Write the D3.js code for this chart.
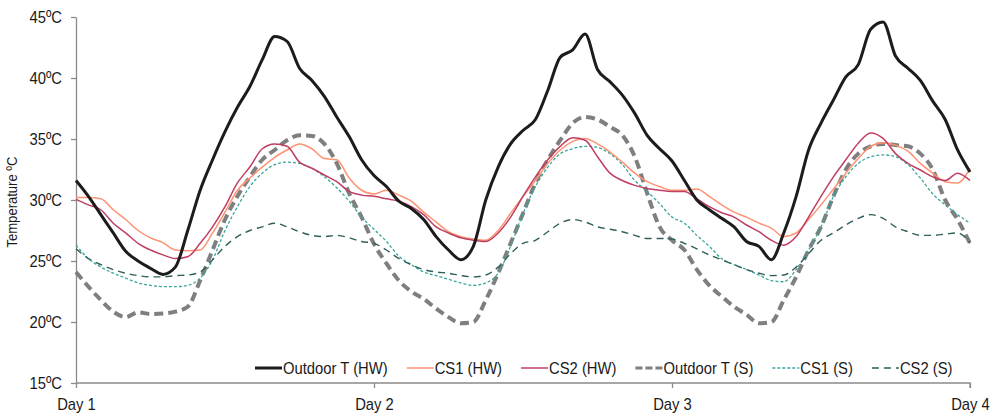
<!DOCTYPE html>
<html>
<head>
<meta charset="utf-8">
<script src="https://cdn.jsdelivr.net/npm/d3@7"></script>
<style>
  body { margin: 0; background: #fff; }
  svg text { font-family: "Liberation Sans Narrow", "Arial Narrow", "Liberation Sans", Arial, sans-serif; fill: #1a1a1a; }
</style>
</head>
<body>
<div id="chart"></div>
<script>
// hourly readings, hour 0 = Day 1 00:00 ... hour 72 = Day 4
const hours = d3.range(0, 73);
const dayTicks = [0, 24, 48, 72];
const dayLabels = ["Day 1", "Day 2", "Day 3", "Day 4"];
const tempTicks = [15, 20, 25, 30, 35, 40, 45];

const outdoorHW = [
  31.6, 30.3, 28.8, 27.3, 25.8, 25.0, 24.4, 23.9, 24.5, 27.5, 30.8, 33.3, 35.6, 37.6, 39.3, 41.5, 43.4, 43.0, 40.8, 39.8, 38.5, 36.8, 35.2, 33.3, 32.0,
  31.1, 29.9, 29.3, 28.4, 27.0, 25.9, 25.1, 26.2, 30.0, 32.7, 34.6, 35.7, 36.6, 39.0, 41.7, 42.3, 43.6, 40.7, 39.7, 38.6, 37.1, 35.3, 34.2, 33.2,
  31.6, 30.0, 29.2, 28.5, 27.8, 26.6, 26.2, 25.1, 27.3, 30.3, 34.1, 36.3, 38.2, 40.1, 41.1, 44.0, 44.6, 41.8, 40.8, 39.8, 38.1, 36.6, 34.1, 32.3
];
const cs1HW = [
  30.2, 30.2, 30.1, 29.2, 28.4, 27.5, 26.9, 26.5, 25.9, 25.85, 25.9, 27.3, 29.0, 30.8, 31.8, 32.7, 33.5, 34.1, 34.6, 34.2, 33.4, 33.3, 31.8, 30.8, 30.5,
  30.8, 30.4, 29.9, 29.0, 28.2, 27.4, 27.0, 26.8, 26.7, 27.5, 28.9, 30.3, 31.6, 33.0, 34.1, 34.8, 35.05, 34.6, 33.95, 33.1, 32.2, 31.5, 31.1, 30.8,
  30.8, 30.9, 30.3, 29.6, 29.0, 28.6, 28.1, 27.7, 27.0, 27.3, 28.4, 29.6, 30.9, 32.2, 33.4, 34.4, 34.7, 34.5, 34.0, 33.0, 32.2, 31.5, 31.4, 32.6
];
const cs2HW = [
  30.05, 29.6, 29.2, 28.1, 27.3, 26.45, 25.9, 25.5, 25.2, 25.35, 26.45, 27.8, 29.45, 31.4, 32.7, 34.2, 34.6, 34.4, 33.1, 32.6, 32.05, 31.5, 30.7, 30.4, 30.3,
  30.1, 29.9, 29.45, 28.8, 27.8, 27.3, 26.9, 26.7, 26.6, 27.3, 28.6, 30.3, 31.9, 33.3, 34.4, 35.1, 34.9, 33.55, 32.2, 31.6, 31.2, 30.95, 30.8, 30.7,
  30.7, 30.1, 29.45, 28.96, 28.6, 27.95, 27.4, 26.7, 26.3, 27.0, 28.6, 30.3, 31.9, 33.3, 34.65, 35.5, 35.05, 33.8, 33.0, 32.46, 31.9, 31.6, 32.2, 31.6
];
const outdoorS = [
  24.1, 22.9, 21.8, 20.85, 20.4, 20.8, 20.65, 20.7, 20.85, 21.25, 23.4, 25.9, 28.4, 30.3, 31.9, 33.3, 34.1, 34.9, 35.3, 35.25, 34.6, 33.0, 30.55, 28.6, 26.4,
  24.8, 23.4, 22.5, 21.9, 21.1, 20.4, 19.9, 20.0, 21.8, 24.0, 26.45, 28.9, 31.4, 33.3, 34.9, 36.3, 36.8, 36.6, 36.0, 35.3, 33.55, 30.55, 27.8, 26.7,
  25.9, 24.3, 23.0, 22.1, 21.25, 20.6, 19.9, 20.0, 21.8, 23.7, 25.9, 27.8, 30.3, 32.5, 33.8, 34.4, 34.6, 34.5, 34.4, 33.8, 32.5, 30.0, 28.4, 26.45
];
const cs1S = [
  26.3, 25.2, 24.5, 24.0, 23.6, 23.2, 23.0, 22.9, 22.9, 23.0, 23.6, 25.1, 27.5, 29.45, 31.1, 32.2, 32.9, 33.1, 33.0, 32.6, 31.9, 31.0, 29.9, 28.6, 27.6,
  26.6, 25.4, 24.7, 24.1, 23.8, 23.5, 23.2, 23.0, 23.2, 24.0, 26.2, 28.9, 31.1, 32.7, 33.8, 34.2, 34.4, 34.3, 33.8, 32.9, 31.6, 30.7, 29.7, 28.6,
  28.1, 27.1, 26.2, 25.2, 24.7, 24.3, 23.85, 23.4, 23.3, 24.3, 25.9, 27.8, 30.3, 31.9, 33.0, 33.55, 33.7, 33.55, 32.9, 31.8, 30.5, 29.6, 28.8, 28.1
];
const cs2S = [
  26.0, 25.2, 24.7, 24.3, 24.0, 23.8, 23.7, 23.7, 23.8, 23.85, 24.1, 25.1, 26.2, 27.0, 27.5, 27.8, 28.1, 27.8, 27.4, 27.1, 27.0, 27.1, 26.9, 26.6, 26.45,
  25.9, 25.2, 24.7, 24.3, 24.1, 24.0, 23.8, 23.7, 23.85, 24.5, 25.6, 26.45, 26.7, 27.4, 28.1, 28.4, 28.2, 27.8, 27.6, 27.4, 27.1, 26.85, 26.85, 26.8,
  26.45, 26.0, 25.5, 25.1, 24.7, 24.3, 24.0, 23.8, 23.85, 24.5, 25.6, 26.7, 27.3, 27.95, 28.5, 28.8, 28.5, 27.8, 27.4, 27.1, 27.1, 27.2, 27.3, 26.45
];

const seriesNames = ["Outdoor T (HW)", "CS1 (HW)", "CS2 (HW)", "Outdoor T (S)", "CS1 (S)", "CS2 (S)"];
const seriesValues = [outdoorHW, cs1HW, cs2HW, outdoorS, cs1S, cs2S];

// drawing styles, in the same order as seriesNames
const styles = [
  { color: "#1c1c1c", width: 3,   dash: null },
  { color: "#ff9272", width: 1.5, dash: null },
  { color: "#bf3f62", width: 1.5, dash: null },
  { color: "#7f7f7f", width: 4,   dash: "9,5" },
  { color: "#3aa59c", width: 1.3, dash: "3,2" },
  { color: "#2f5f5b", width: 1.4, dash: "7,5" }
];
// draw order: S lines first, HW on top
const drawOrder = [3, 4, 5, 1, 2, 0];

const width = 995;
const height = 420;
const margin = { top: 17, right: 25, bottom: 37, left: 76 };
const squeeze = 0.87; // the original uses a condensed face

// narrow a text horizontally, keeping its anchor
function condense(sel) {
  sel.each(function () {
    const len = this.getComputedTextLength();
    d3.select(this)
      .attr("textLength", len * squeeze)
      .attr("lengthAdjust", "spacingAndGlyphs");
  });
}

const svg = d3.select("#chart")
  .append("svg")
  .attr("width", width)
  .attr("height", height);

const x = d3.scaleLinear()
  .domain([0, 72])
  .range([margin.left, width - margin.right]);

const y = d3.scaleLinear()
  .domain([15, 45])
  .range([height - margin.bottom, margin.top]);

// axes
const yAxis = svg.append("g")
  .attr("transform", `translate(${margin.left},0)`)
  .call(d3.axisLeft(y)
    .tickValues(tempTicks)
    .tickSize(5)
    .tickSizeOuter(0)
    .tickPadding(9)
    .tickFormat(d => d + "ºC"));

const xAxis = svg.append("g")
  .attr("transform", `translate(0,${height - margin.bottom})`)
  .call(d3.axisBottom(x)
    .tickValues(dayTicks)
    .tickSize(5)
    .tickSizeOuter(0)
    .tickPadding(10)
    .tickFormat((d, i) => dayLabels[i]));

[yAxis, xAxis].forEach(g => {
  g.selectAll("path, line").attr("stroke", "#8a8a8a").attr("stroke-width", 1.3);
  g.selectAll("text").attr("font-size", 17).attr("fill", "#1a1a1a").call(condense);
});
xAxis.select("path").attr("d", `M${x(0)},0H${x(72)}V5`);

svg.append("text")
  .attr("transform", `translate(17,${(y(15) + y(45)) / 2 + 2}) rotate(-90)`)
  .attr("text-anchor", "middle")
  .attr("font-size", 15)
  .text("Temperature ºC")
  .call(condense);

// lines
const line = d3.line()
  .x((d, i) => x(hours[i]))
  .y(d => y(d))
  .curve(d3.curveMonotoneX);

drawOrder.forEach(k => {
  svg.append("path")
    .datum(seriesValues[k])
    .attr("fill", "none")
    .attr("stroke", styles[k].color)
    .attr("stroke-width", styles[k].width)
    .attr("stroke-dasharray", styles[k].dash)
    .attr("stroke-linejoin", "round")
    .attr("d", line);
});

// legend
const legend = svg.append("g").attr("transform", "translate(255,368)");
let cursor = 0;
seriesNames.forEach((name, k) => {
  const item = legend.append("g").attr("transform", `translate(${cursor},0)`);
  item.append("line")
    .attr("x1", 0).attr("x2", 27)
    .attr("y1", 0).attr("y2", 0)
    .attr("stroke", styles[k].color)
    .attr("stroke-width", Math.min(styles[k].width, 3))
    .attr("stroke-dasharray", styles[k].dash ? (k === 3 ? "7,3" : styles[k].dash) : null);
  const t = item.append("text")
    .attr("x", 28)
    .attr("dy", "0.35em")
    .attr("font-size", 17)
    .text(name);
  const w = t.node().getComputedTextLength() * squeeze;
  t.attr("textLength", w).attr("lengthAdjust", "spacingAndGlyphs");
  cursor += 28 + w + 19;
});
</script>
</body>
</html>
